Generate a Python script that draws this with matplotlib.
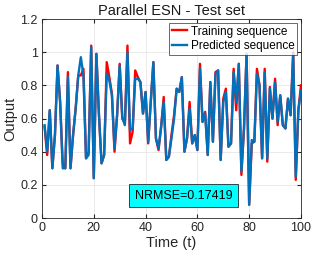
import numpy as np
import matplotlib.pyplot as plt

plt.rcParams['font.family'] = ['Liberation Sans', 'DejaVu Sans']

# data
t = np.arange(1, 101)
training = [0.55, 0.38, 0.65, 0.30, 0.50, 0.92, 0.70, 0.33, 0.30, 0.88,
            0.30, 0.50, 0.66, 0.86, 0.86, 0.90, 0.36, 0.40, 1.04, 0.24,
            0.99, 0.62, 0.33, 0.38, 0.94, 0.85, 0.75, 0.40, 0.62, 0.93,
            0.60, 0.57, 1.04, 0.45, 0.52, 0.89, 0.85, 0.82, 0.63, 0.76,
            0.45, 0.70, 0.94, 0.48, 0.41, 0.55, 0.73, 0.35, 0.37, 0.50,
            0.62, 0.78, 0.76, 0.85, 0.40, 0.48, 0.70, 0.45, 0.50, 0.41,
            0.93, 0.58, 0.64, 0.38, 0.82, 0.46, 0.88, 0.89, 0.35, 0.72,
            0.78, 0.43, 0.45, 0.90, 0.65, 0.93, 0.26, 0.54, 0.99, 0.08,
            0.45, 0.46, 0.90, 0.80, 0.36, 0.90, 0.34, 0.79, 0.60, 0.84,
            0.56, 0.74, 0.56, 0.54, 0.72, 0.62, 1.00, 0.23, 0.65, 0.80]
predicted = [0.56, 0.40, 0.65, 0.30, 0.50, 0.92, 0.70, 0.30, 0.30, 0.85,
             0.30, 0.50, 0.66, 0.86, 0.97, 0.86, 0.36, 0.38, 1.03, 0.24,
             0.99, 0.62, 0.33, 0.38, 0.87, 0.83, 0.74, 0.42, 0.62, 0.92,
             0.61, 0.56, 1.00, 0.53, 0.54, 0.84, 0.84, 0.82, 0.63, 0.76,
             0.46, 0.70, 0.94, 0.48, 0.42, 0.55, 0.70, 0.35, 0.37, 0.48,
             0.60, 0.78, 0.76, 0.85, 0.40, 0.48, 0.66, 0.45, 0.50, 0.41,
             0.90, 0.58, 0.63, 0.38, 0.82, 0.46, 0.87, 0.89, 0.35, 0.70,
             0.76, 0.43, 0.45, 0.88, 0.70, 0.93, 0.28, 0.54, 0.99, 0.08,
             0.47, 0.46, 0.87, 0.80, 0.36, 0.88, 0.36, 0.78, 0.60, 0.82,
             0.58, 0.74, 0.56, 0.54, 0.72, 0.62, 0.99, 0.25, 0.65, 0.77]

fig = plt.figure(figsize=(3.32, 2.54), dpi=100)
ax = fig.add_axes([0.1265, 0.1417, 0.78, 0.7833])
ax.plot(t, training, color='red', linewidth=1.7, label='Training sequence')
ax.plot(t, predicted, color=(0, 0.447, 0.741), linewidth=1.7, label='Predicted sequence')
ax.set_xlim(0, 100)
ax.set_ylim(0, 1.2)
ax.set_xticks([0, 20, 40, 60, 80, 100])
ax.set_yticks([0, 0.2, 0.4, 0.6, 0.8, 1, 1.2])
ax.set_yticklabels(['0', '0.2', '0.4', '0.6', '0.8', '1', '1.2'])
ax.grid(True, color='#e6e6e6', linewidth=0.6)
ax.set_axisbelow(True)
ax.tick_params(direction='in', length=3, labelsize=9, colors='#262626', top=True, right=True, pad=3)
for s in ax.spines.values():
    s.set_color('#262626')
    s.set_linewidth(0.6)
ax.set_title('Parallel ESN - Test set', fontsize=10.5, color='#1a1a1a', pad=3)
ax.set_xlabel('Time (t)', fontsize=10.5, color='#262626', labelpad=1)
ax.set_ylabel('Output', fontsize=10.5, color='#262626', labelpad=2)
leg = ax.legend(loc='upper right', fontsize=8.5, frameon=True, fancybox=False,
                borderpad=0.25, handlelength=1.3, handletextpad=0.3,
                labelspacing=0.2, borderaxespad=0.3)
leg.get_frame().set_edgecolor('#262626')
leg.get_frame().set_linewidth(0.6)
ax.text(35.8, 0.135, 'NRMSE=0.17419', fontsize=9, va='center', ha='left',
        bbox=dict(boxstyle='square,pad=0.45', facecolor='cyan', edgecolor='#262626', linewidth=0.6))
fig.savefig('out.png', dpi=100)
